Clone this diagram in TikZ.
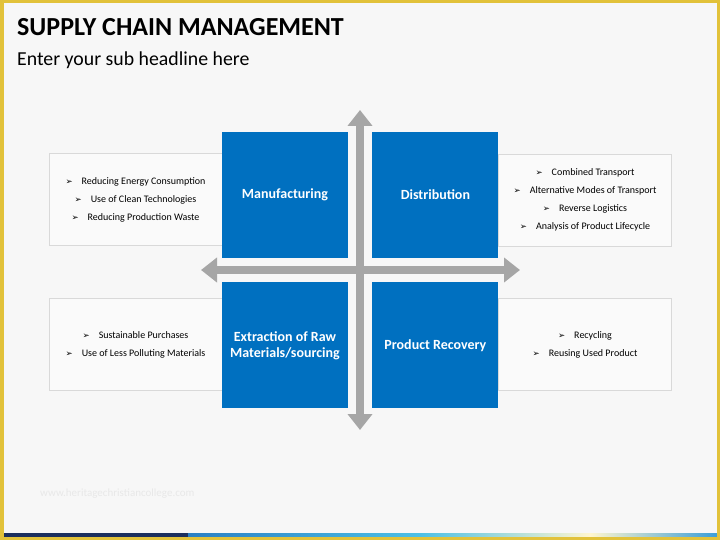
\documentclass[tikz,border=0pt]{standalone}
\usepackage{fontspec}
\setmainfont{Carlito}
\newfontfamily\dejavu{DejaVu Sans}
\usepackage{xcolor}
\definecolor{cBlue}{HTML}{0070C0}
\definecolor{cAxis}{HTML}{A6A6A6}
\definecolor{cLine}{HTML}{D9D9D9}
\definecolor{cPanel}{HTML}{FAFAFA}
\definecolor{cBack}{HTML}{F7F7F7}
\definecolor{cFrame}{HTML}{E2C23A}
\definecolor{cNavy}{HTML}{1B2F5E}
\definecolor{cBarA}{HTML}{2A7FC4}
\definecolor{cBarB}{HTML}{4CC0E6}
\definecolor{cBarC}{HTML}{FFF6CF}
\definecolor{cBarD}{HTML}{3B9ED8}
\definecolor{cMark}{HTML}{E8E8E8}
\usetikzlibrary{positioning,arrows.meta}
\newcommand\itm{{\dejavu\fontsize{8.5}{8.5}\selectfont ➢}\hspace{9pt}}
\tikzset{
  node-quad/.style={fill=cBlue,draw=none,minimum width=126pt,minimum height=126pt,
    inner sep=0pt,align=center,text=white,font=\fontsize{14}{16}\selectfont\bfseries},
  node-side/.style={draw=cLine,line width=0.8pt,fill=cPanel,minimum width=173pt,
    minimum height=92pt,inner sep=0pt,align=center,font=\fontsize{10}{18}\selectfont},
  arrow-axis/.style={{Triangle[width=24pt,length=16pt]}-{Triangle[width=24pt,length=16pt]},
    line width=8pt,draw=cAxis},
}

\begin{document}
\begin{tikzpicture}[x=1pt,y=-1pt]
  \useasboundingbox (0,0) rectangle (720,540);
  \fill[cBack] (0,0) rectangle (720,540);
  % titles
  \node[anchor=base west,inner sep=0pt,font=\fontsize{26}{30}\selectfont\bfseries]
    (title) at (17,36) {SUPPLY CHAIN MANAGEMENT};
  \node[anchor=base west,inner sep=0pt,font=\fontsize{19.8}{24}\selectfont]
    (subtitle) at (17,66) {Enter your sub headline here};
  % side panels
  \node[node-side] (mfg-txt) at (135.5,199.5)
    {\itm Reducing Energy Consumption\\\itm Use of Clean Technologies\\\itm Reducing Production Waste};
  \node[node-side] (dist-txt) at (585,200)
    {\itm Combined Transport\\\itm Alternative Modes of Transport\\\itm Reverse Logistics\\\itm Analysis of Product Lifecycle};
  \node[node-side] (raw-txt) at (135.5,344.5)
    {\itm Sustainable Purchases\\\itm Use of Less Polluting Materials};
  \node[node-side] (rec-txt) at (585,344.5)
    {\itm Recycling\\\itm Reusing Used Product};
  % quadrants
  \node[node-quad] (mfg) at (285,195) {Manufacturing};
  \node[node-quad,right=24pt of mfg] (dist) {Distribution};
  \node[node-quad,below=24pt of mfg] (raw) {Extraction of Raw\\Materials/sourcing};
  \node[node-quad,below=24pt of dist] (rec) {Product Recovery};
  % axes
  \coordinate (ax-n) at (360,110);
  \coordinate (ax-s) at (360,430);
  \coordinate (ax-w) at (201,270);
  \coordinate (ax-e) at (520,270);
  \draw[arrow-axis] (ax-w) -- (ax-e);
  \draw[arrow-axis] (ax-n) -- (ax-s);
  % footer
  \node[anchor=west,inner sep=0pt,text=cMark,font=\fontsize{11}{13}\selectfont]
    (mark) at (40,494) {www.heritagechristiancollege.com};
  \fill[cNavy] (3,533) rectangle (188,537);
  \shade[left color=cBarA,right color=cBarB] (188,533) rectangle (420,537);
  \shade[left color=cBarB,right color=cBarC] (420,533) rectangle (590,537);
  \shade[left color=cBarC,right color=cBarD] (590,533) rectangle (717,537);
  \draw[cFrame,line width=3.5pt] (1.75,1.75) rectangle (718.25,538.25);
\end{tikzpicture}
\end{document}
